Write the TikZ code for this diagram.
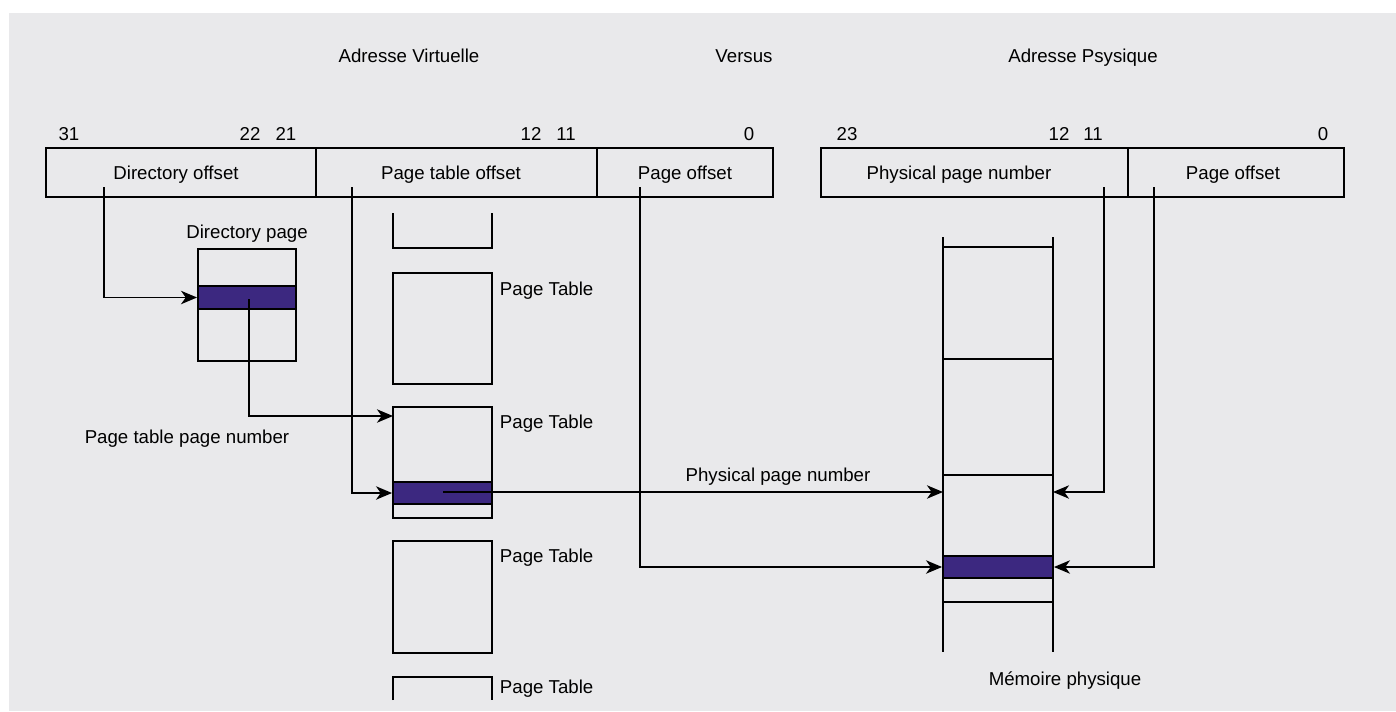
\documentclass[tikz,border=0pt]{standalone}
\usepackage{fontspec}
\setmainfont{Liberation Sans}
\usetikzlibrary{arrows.meta,fit}
\definecolor{bggray}{RGB}{233,233,235}
\definecolor{entry}{RGB}{60,40,128}
\begin{document}
\begin{tikzpicture}[x=0.75pt,y=-0.75pt,
  line width=1.4pt,
  box/.style={draw, inner sep=0pt, line width=1.4pt},
  hot/.style={box, fill=entry},
  txt/.style={inner sep=0pt, anchor=base, font=\fontsize{14}{16}\selectfont},
  lbl/.style={txt, anchor=base west},
  link/.style={draw, line width=1.4pt, -{Stealth[length=12pt,width=10pt,inset=3.5pt]}},
  wire/.style={draw, line width=1.4pt}]
\useasboundingbox (0,0) rectangle (1396,711);
\fill[bggray] (9,13) rectangle (1396,711);

% titles
\node[txt] (tv) at (409,62) {Adresse Virtuelle};
\node[txt] (tvs) at (744,62) {Versus};
\node[txt] (tp) at (1083,62) {Adresse Psysique};

% bit positions
\node[txt] (b31) at (69,140) {31};
\node[txt] (b22) at (250,140) {22};
\node[txt] (b21) at (286,140) {21};
\node[txt] (b12) at (531,140) {12};
\node[txt] (b11) at (566,140) {11};
\node[txt] (b0) at (749,140) {0};
\node[txt] (p23) at (847,140) {23};
\node[txt] (p12) at (1059,140) {12};
\node[txt] (p11) at (1093,140) {11};
\node[txt] (p0) at (1323,140) {0};

% virtual address fields
\node[box, fit={(46,148)(316,197)}] (dir) {};
\node[box, fit={(316,148)(597,197)}] (pto) {};
\node[box, fit={(597,148)(773,197)}] (poff) {};
\node[txt] (dirt) at (176,179) {Directory offset};
\node[txt] (ptot) at (451,179) {Page table offset};
\node[txt] (pofft) at (685,179) {Page offset};

% physical address fields
\node[box, fit={(821,148)(1128,197)}] (ppn) {};
\node[box, fit={(1128,148)(1344,197)}] (ppoff) {};
\node[txt] (ppnt) at (959,179) {Physical page number};
\node[txt] (ppofft) at (1233,179) {Page offset};

% directory page
\node[txt] (dpt) at (247,238) {Directory page};
\node[box, fit={(198,249)(296,361)}] (dpage) {};
\node[hot, fit={(198,286)(296,309)}] (dent) {};

% page tables
\draw[wire] (393,213) -- (393,248) -- (492,248) -- (492,213);
\node[box, fit={(393,273)(492,384)}] (pt1) {};
\node[box, fit={(393,407)(492,518)}] (pt2) {};
\node[hot, fit={(393,482)(492,504)}] (pte) {};
\node[box, fit={(393,541)(492,653)}] (pt3) {};
\draw[wire] (393,700) -- (393,677) -- (492,677) -- (492,700);
\node[lbl] (l1) at (499,295) {Page Table};
\node[lbl] (l2) at (499,428) {Page Table};
\node[lbl] (l3) at (499,562) {Page Table};
\node[lbl] (l4) at (499,693) {Page Table};

% physical memory
\draw[wire] (943,237) -- (943,652);
\draw[wire] (1053,237) -- (1053,652);
\foreach \yy in {247,359,475,602} \draw[wire] (943,\yy) -- (1053,\yy);
\node[hot, fit={(943,556)(1053,578)}] (frame) {};
\node[txt] (memt) at (1065,685) {Mémoire physique};

% connector ends
\coordinate (s1) at (104,187);
\coordinate (s2) at (352,187);
\coordinate (s3) at (249,299);
\coordinate (t3) at (393,416);
\coordinate (s4) at (443,492);
\coordinate (memA) at (943,492);
\coordinate (s5) at (640,187);
\coordinate (s6) at (1104,187);
\coordinate (memC) at (1053,492);
\coordinate (s7) at (1154,187);

% connectors
\draw[link] (s1) |- (dent.west);
\draw[link] (s2) |- (pte.west);
\draw[link] (s3) |- (t3);
\draw[link] (s4) -- (memA);
\node[txt] (ppnl) at (778,481) {Physical page number};
\draw[link] (s5) |- (frame.west);
\draw[link] (s6) |- (memC);
\draw[link] (s7) |- (frame.east);
\node[txt] (ptpn) at (187,443) {Page table page number};
\end{tikzpicture}
\end{document}
